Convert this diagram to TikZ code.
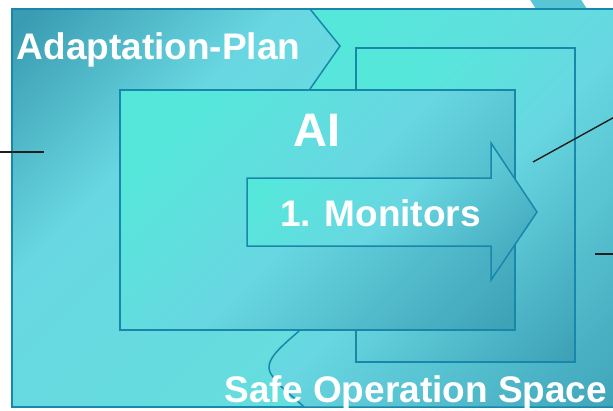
\documentclass[tikz,border=0pt]{standalone}
\usepackage{fontspec}
\setmainfont{Liberation Sans}

\definecolor{aquaT}{HTML}{56E7DB}
\definecolor{aquaM}{HTML}{64E0DD}
\definecolor{aquaL}{HTML}{68D7E1}
\definecolor{aquaS}{HTML}{4CB4C6}
\definecolor{aquaD}{HTML}{3A9CB2}
\definecolor{edgeblue}{HTML}{1888AA}
\definecolor{wire}{HTML}{1E1E1E}
\definecolor{tabfill}{HTML}{58C6D4}

% diagonal fades: bright aqua -> light cyan -> deep teal, and the reverse
\pgfdeclarehorizontalshading{aquafade}{100bp}{color(0bp)=(aquaT); color(25bp)=(aquaT); color(50bp)=(aquaL); color(72bp)=(aquaS); color(88bp)=(aquaD); color(100bp)=(aquaD)}
\pgfdeclarehorizontalshading{aquarise}{100bp}{color(0bp)=(aquaD); color(16bp)=(aquaD); color(33bp)=(aquaL); color(70bp)=(aquaM); color(100bp)=(aquaM)}

\tikzset{
  plate/.style={draw=edgeblue, line width=1.5pt, shading=aquafade, shading angle=-45, inner sep=0pt},
  whitetext/.style={text=white, inner sep=0pt, font=\bfseries\fontsize{37}{40}\selectfont},
  wire/.style={draw=wire, line width=1.4pt}
}

\begin{document}
\begin{tikzpicture}[x=1pt, y=-1pt]
  \useasboundingbox (0,0) rectangle (613,410);
  \clip (0,0) rectangle (613,410);

  % shape peeking above the frame
  \fill[tabfill] (529,-2) -- (580,-2) -- (587,9) -- (536,9) -- cycle;

  % outer frame: Safe Operation Space
  \node[plate, shading=aquarise, minimum width=628pt, minimum height=398pt] (space) at (326,208) {};

  % right-hand region with the chevron notch
  \path[plate] (310,9) -- (650,9) -- (650,407) -- (304,407)
    .. controls (295,398) and (278,386) .. (271,374)
    .. controls (262,360) and (285,344) .. (300,330)
    -- (310,89) -- (340,46) -- cycle;

  % rear box and AI box
  \node[plate, minimum width=219pt, minimum height=314pt] (rear) at (465.5,205) {};
  \node[plate, minimum width=395pt, minimum height=240pt] (ai) at (317.5,210) {};

  % Monitors arrow
  \path[plate] (247,178) -- (491,178) -- (491,143) -- (537,212) -- (491,280) -- (491,246) -- (247,246) -- cycle;

  % texts
  \node[whitetext, anchor=base west] (plan) at (16.5,59) {Adaptation-Plan};
  \node[whitetext, anchor=base, font=\bfseries\fontsize{47}{50}\selectfont] (ailabel) at (317,146) {AI};
  \node[whitetext, anchor=base] (monitors) at (380.5,226) {1. Monitors};
  \node[whitetext, anchor=base west] (safe) at (224.5,402) {Safe Operation Space};

  % connector stubs
  \coordinate (w1a) at (-5,152);
  \coordinate (w1b) at (44,152);
  \coordinate (w2a) at (533,162);
  \coordinate (w2b) at (620,114);
  \coordinate (w3a) at (595,254);
  \coordinate (w3b) at (620,254);
  \draw[wire] (w1a) -- (w1b);
  \draw[wire] (w2a) -- (w2b);
  \draw[wire] (w3a) -- (w3b);
\end{tikzpicture}
\end{document}
